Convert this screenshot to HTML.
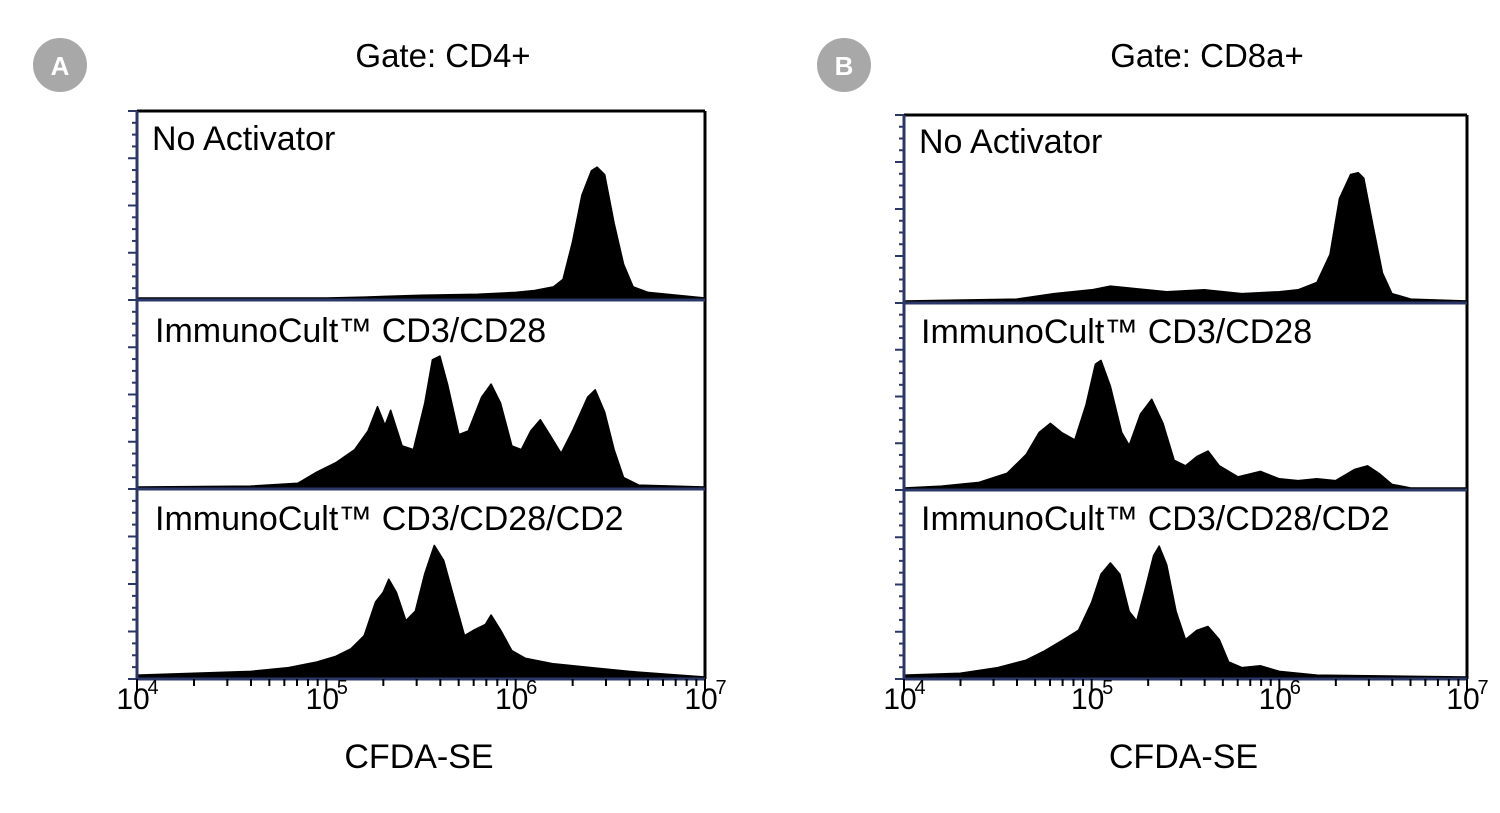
<!DOCTYPE html>
<html><head><meta charset="utf-8"><style>
body{margin:0;background:#fff;width:1500px;height:808px;overflow:hidden}
svg text{font-family:"Liberation Sans",sans-serif}
</style></head><body>
<svg id="chart" width="1500" height="808" viewBox="0 0 1500 808"></svg>
<script>
// Panel A (CD4+) series: [log10 CFSE, count %]
const a_noAct_x=[4.0,5.0,5.2,5.5,5.8,6.0,6.1,6.2,6.25,6.3,6.35,6.4,6.43,6.47,6.52,6.57,6.62,6.7,6.8,6.9,7.0];
const a_noAct_y=[0,0,0.5,1.5,2,3,4,6,10,30,55,68,70,66,40,18,6,3,2,1,0];
const a_cd28_x=[4.0,4.6,4.85,4.95,5.05,5.15,5.22,5.27,5.31,5.34,5.4,5.46,5.52,5.56,5.6,5.64,5.7,5.75,5.82,5.87,5.92,5.98,6.03,6.08,6.13,6.18,6.24,6.3,6.38,6.42,6.47,6.52,6.57,6.65,7.0];
const a_cd28_y=[0,0.5,2,8,13,20,30,43,33,41,22,20,45,68,70,55,28,30,48,55,45,22,20,30,36,28,18,30,48,52,40,20,5,1,0];
const a_cd2_x=[4.0,4.3,4.6,4.8,4.95,5.05,5.13,5.2,5.26,5.3,5.33,5.37,5.42,5.47,5.52,5.57,5.62,5.68,5.73,5.78,5.84,5.87,5.92,5.98,6.05,6.2,6.4,6.6,6.8,7.0];
const a_cd2_y=[1,2,3,5,8,11,15,22,40,45,52,45,30,35,55,70,62,40,22,25,28,33,25,14,10,7,5,3,1.5,0];
// Panel B (CD8a+)
const b_noAct_x=[4.0,4.6,4.8,5.0,5.1,5.2,5.4,5.6,5.8,6.0,6.1,6.2,6.27,6.32,6.38,6.42,6.45,6.5,6.55,6.6,6.7,7.0];
const b_noAct_y=[0,1,4,6,8,7,5,6,4,5,6,10,25,55,68,69,66,40,15,4,1,0];
const b_cd28_x=[4.0,4.2,4.4,4.55,4.65,4.72,4.78,4.84,4.91,4.97,5.02,5.05,5.1,5.16,5.2,5.26,5.32,5.38,5.44,5.5,5.56,5.62,5.68,5.78,5.9,6.0,6.1,6.2,6.3,6.4,6.47,6.53,6.6,6.7,7.0];
const b_cd28_y=[0,1,3,8,18,30,35,30,26,45,67,69,55,30,23,40,48,35,15,12,17,20,12,6,9,5,4,5,4,10,12,8,2,0,0];
const b_cd2_x=[4.0,4.3,4.5,4.65,4.75,4.85,4.93,5.0,5.05,5.1,5.15,5.2,5.24,5.28,5.33,5.36,5.4,5.45,5.5,5.56,5.62,5.68,5.73,5.8,5.9,6.0,6.2,7.0];
const b_cd2_y=[1,2,5,9,14,20,25,40,55,61,55,35,30,45,65,70,60,35,20,25,27,20,8,5,6,3,1,0];
const xTickLabels=["4","5","6","7"];
const labels=["No Activator","ImmunoCult™ CD3/CD28","ImmunoCult™ CD3/CD28/CD2"];

const NS="http://www.w3.org/2000/svg";
const svg=document.getElementById('chart');
function mk(tag,attrs,parent){const e=document.createElementNS(NS,tag);for(const k in attrs)e.setAttribute(k,attrs[k]);(parent||svg).appendChild(e);return e;}

const panels=[
 {id:'a',letter:'A',cx:60,title:'Gate: CD4+',tx:443,L:137,R:705,T:111,B:679,divs:[111,300,489,679],
  series:[[a_noAct_x,a_noAct_y],[a_cd28_x,a_cd28_y],[a_cd2_x,a_cd2_y]],lx:[152,155,155],ly:[150,342,530]},
 {id:'b',letter:'B',cx:844,title:'Gate: CD8a+',tx:1207,L:904,R:1467,T:115,B:679,divs:[115,303,490,679],
  series:[[b_noAct_x,b_noAct_y],[b_cd28_x,b_cd28_y],[b_cd2_x,b_cd2_y]],lx:[919,921,921],ly:[153,343,530]}
];
const blue="#2b3767";
panels.forEach(p=>{
 const g=mk('g',{});
 
 
 const c=mk('circle',{cx:p.cx,cy:65,r:27,fill:'#a8a8a8'},g);
 
 const ct=mk('text',{x:p.cx,y:75,'text-anchor':'middle','font-size':26,'font-weight':'bold',fill:'#fff'},g);ct.textContent=p.letter;
 
 const tt=mk('text',{x:p.tx,y:67,'text-anchor':'middle','font-size':33,fill:'#000'},g);tt.textContent=p.title;
 
 const xs=v=>p.L+(v-4)/3*(p.R-p.L);
 for(let i=0;i<3;i++){
  const top=p.divs[i],bot=p.divs[i+1]-2,h=p.divs[i+1]-p.divs[i]-2;
  const ys=v=>bot-v/100*h;
  const [sx,sy]=p.series[i];
  let d='M'+xs(sx[0])+','+bot;
  for(let k=0;k<sx.length;k++)d+=' L'+xs(sx[k]).toFixed(1)+','+ys(sy[k]).toFixed(1);
  d+=' L'+xs(sx[sx.length-1])+','+bot+' Z';
  const path=mk('path',{d:d,fill:'#000',stroke:'#000','stroke-width':1.5,'stroke-linejoin':'round'},g);
  
  const lt=mk('text',{x:p.lx[i],y:p.ly[i],'font-size':34,fill:'#000'},g);lt.textContent=labels[i];
  
  // y ticks
  const sh=p.divs[i+1]-p.divs[i];
  for(let t=0;t<16;t++){const y=p.divs[i]+t*sh/16;const len=t%4===0?9:5;
   const tk=mk('line',{x1:p.L-len,x2:p.L,y1:y,y2:y,stroke:blue,'stroke-width':2},g);
   }
 }
 mk('line',{x1:p.L-9,x2:p.L,y1:p.B,y2:p.B,stroke:blue,'stroke-width':2},g);
 // frame
 mk('line',{x1:p.L,x2:p.R,y1:p.T,y2:p.T,stroke:'#000','stroke-width':3},g);
 mk('line',{x1:p.R,x2:p.R,y1:p.T,y2:p.B,stroke:'#000','stroke-width':3},g);
 mk('line',{x1:p.L,x2:p.L,y1:p.T,y2:p.B,stroke:blue,'stroke-width':3},g);
 [p.divs[1],p.divs[2],p.B].forEach(y=>{const l=mk('line',{x1:p.L,x2:p.R,y1:y,y2:y,stroke:blue,'stroke-width':3},g);
  });
 // x ticks
 for(let dec=4;dec<7;dec++){for(let m=1;m<10;m++){const v=dec+Math.log10(m);const x=xs(v);
  mk('line',{x1:x,x2:x,y1:p.B,y2:p.B+(m===1?13:7),stroke:'#000','stroke-width':2},g);}}
 mk('line',{x1:p.R,x2:p.R,y1:p.B,y2:p.B+13,stroke:'#000','stroke-width':2},g);
 xTickLabels.forEach((lab,j)=>{const x=xs(4+j);
  const t=mk('text',{x:x-4,y:709,'text-anchor':'middle','font-size':30,fill:'#000'},g);t.textContent='10';
  
  const s=mk('text',{x:x+16,y:694,'text-anchor':'middle','font-size':20,fill:'#000'},g);s.textContent=lab;});
 const xt=mk('text',{x:(p.L+p.R)/2-2,y:768,'text-anchor':'middle','font-size':34,fill:'#000'},g);xt.textContent='CFDA-SE';
 
});
</script>
</body></html>
